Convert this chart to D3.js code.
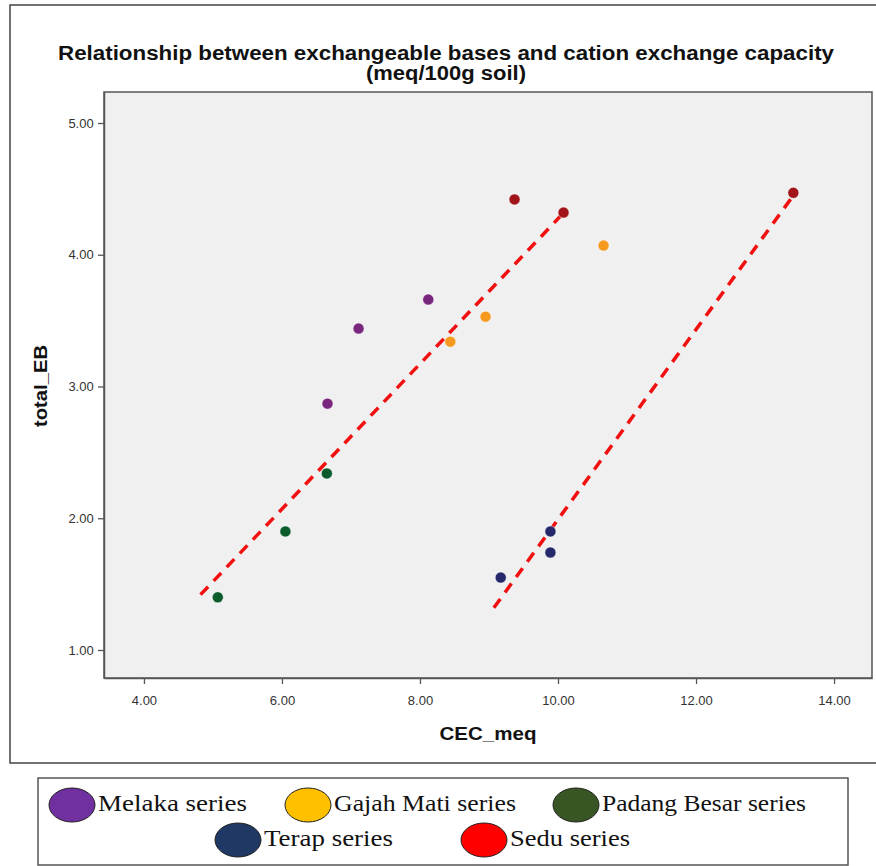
<!DOCTYPE html>
<html>
<head>
<meta charset="utf-8">
<script src="https://cdn.jsdelivr.net/npm/d3@7"></script>
<style>
  body { margin: 0; background: #fff; }
  svg text { font-family: "Liberation Sans", Arial, sans-serif; }
</style>
</head>
<body>
<svg id="chart" width="876" height="866"></svg>
<script>
// series
var melaka = [[6.66, 2.87], [7.11, 3.44], [8.12, 3.66]]
var gajahMati = [[8.44, 3.34], [8.95, 3.53], [10.66, 4.07]]
var padangBesar = [[5.07, 1.40], [6.05, 1.90], [6.65, 2.34]]
var terap = [[9.17, 1.55], [9.89, 1.90], [9.89, 1.74]]
var sedu = [[9.37, 4.42], [10.08, 4.32], [13.41, 4.47]]

// dashed fit lines (start / end)
var fitLines = [
  [[4.82, 1.42], [10.03, 4.29]],
  [[9.07, 1.32], [13.41, 4.45]]
]

var xTicks = [4, 6, 8, 10, 12, 14]
var yTicks = [1, 2, 3, 4, 5]

var seriesNames = ['Melaka series', 'Gajah Mati series', 'Padang Besar series', 'Terap series', 'Sedu series']
var pointColors = ['#79267f', '#f59a1e', '#0b5b2c', '#25296c', '#a0141a']
var legendColors = ['#7030a0', '#ffc000', '#375623', '#1f3864', '#ff0000']

var svg = d3.select('#chart')

// outer frame
svg.append('rect')
  .attr('x', 10).attr('y', 5).attr('width', 880).attr('height', 758)
  .attr('fill', '#fff').attr('stroke', '#444').attr('stroke-width', 1.5)

var plot = { left: 104, top: 92, right: 872, bottom: 678 }

var x = d3.scaleLinear()
  .domain([4 - 40 / 69.1, 14 + 38 / 69.1])
  .range([plot.left, plot.right])
var y = d3.scaleLinear()
  .domain([1 - 28 / 131.75, 5 + 31 / 131.75])
  .range([plot.bottom, plot.top])

svg.append('rect')
  .attr('x', plot.left).attr('y', plot.top)
  .attr('width', plot.right - plot.left).attr('height', plot.bottom - plot.top)
  .attr('fill', '#f0f0f0').attr('stroke', '#555').attr('stroke-width', 1.5)

// title
var title = svg.append('text')
  .attr('text-anchor', 'middle')
  .attr('font-weight', 'bold')
  .attr('font-size', 20)
  .attr('fill', '#111')
title.append('tspan').attr('x', 446).attr('y', 60)
  .attr('textLength', 776).attr('lengthAdjust', 'spacingAndGlyphs')
  .text('Relationship between exchangeable bases and cation exchange capacity')
title.append('tspan').attr('x', 446).attr('y', 80)
  .attr('textLength', 160).attr('lengthAdjust', 'spacingAndGlyphs')
  .text('(meq/100g soil)')

// axes
var xAxis = svg.append('g')
  .attr('transform', `translate(0,${plot.bottom})`)
  .call(d3.axisBottom(x).tickValues(xTicks).tickFormat(d3.format('.2f')).tickSize(6).tickSizeOuter(0))
var yAxis = svg.append('g')
  .attr('transform', `translate(${plot.left},0)`)
  .call(d3.axisLeft(y).tickValues(yTicks).tickFormat(d3.format('.2f')).tickSize(6).tickSizeOuter(0))

;[xAxis, yAxis].forEach((ax) => {
  ax.select('.domain').attr('stroke', '#555').attr('stroke-width', 1.5)
  ax.selectAll('.tick line').attr('stroke', '#555').attr('stroke-width', 1.3)
  ax.selectAll('.tick text')
    .attr('font-family', '"Liberation Sans", Arial, sans-serif')
    .attr('font-size', 13).attr('fill', '#333')
})
xAxis.selectAll('.tick text').attr('dy', '1.4em')
yAxis.selectAll('.tick text').attr('dx', '-0.1em')

svg.append('text')
  .attr('x', 488).attr('y', 740)
  .attr('text-anchor', 'middle')
  .attr('font-weight', 'bold').attr('font-size', 19).attr('fill', '#111')
  .attr('textLength', 97).attr('lengthAdjust', 'spacingAndGlyphs')
  .text('CEC_meq')

svg.append('text')
  .attr('transform', `translate(47,386) rotate(-90)`)
  .attr('text-anchor', 'middle')
  .attr('font-weight', 'bold').attr('font-size', 18).attr('fill', '#111')
  .attr('textLength', 82).attr('lengthAdjust', 'spacingAndGlyphs')
  .text('total_EB')

// fit lines
svg.selectAll('.fit')
  .data(fitLines)
  .enter()
  .append('line')
  .attr('class', 'fit')
  .attr('x1', (d) => x(d[0][0])).attr('y1', (d) => y(d[0][1]))
  .attr('x2', (d) => x(d[1][0])).attr('y2', (d) => y(d[1][1]))
  .attr('stroke', '#f01010').attr('stroke-width', 3.5)
  .attr('stroke-dasharray', '11,8')

// points
var allSeries = [melaka, gajahMati, padangBesar, terap, sedu]
allSeries.forEach((pts, i) => {
  svg.append('g')
    .selectAll('circle')
    .data(pts)
    .enter()
    .append('circle')
    .attr('cx', (d) => x(d[0]))
    .attr('cy', (d) => y(d[1]))
    .attr('r', 5.5)
    .attr('fill', pointColors[i])
    .attr('stroke', '#fff').attr('stroke-opacity', 0.6).attr('stroke-width', 0.8)
})

// legend
svg.append('rect')
  .attr('x', 38).attr('y', 778).attr('width', 810).attr('height', 87)
  .attr('fill', '#fff').attr('stroke', '#555').attr('stroke-width', 1.5)

var legendPos = [[72, 805], [308, 805], [576, 805], [238, 840], [484, 840]]
var legendWidths = [149, 182, 204, 129, 120]
var legend = svg.selectAll('.legend-item')
  .data(seriesNames)
  .enter()
  .append('g')
  .attr('class', 'legend-item')
  .attr('transform', (d, i) => `translate(${legendPos[i][0]},${legendPos[i][1]})`)
legend.append('ellipse')
  .attr('rx', 23).attr('ry', 17)
  .attr('fill', (d, i) => legendColors[i])
  .attr('stroke', '#222').attr('stroke-width', 1)
legend.append('text')
  .attr('x', 26).attr('y', 6)
  .style('font-family', '"Liberation Serif", "Times New Roman", serif')
  .attr('font-size', 23).attr('fill', '#111')
  .attr('textLength', (d, i) => legendWidths[i]).attr('lengthAdjust', 'spacingAndGlyphs')
  .text((d) => d)
</script>
</body>
</html>
